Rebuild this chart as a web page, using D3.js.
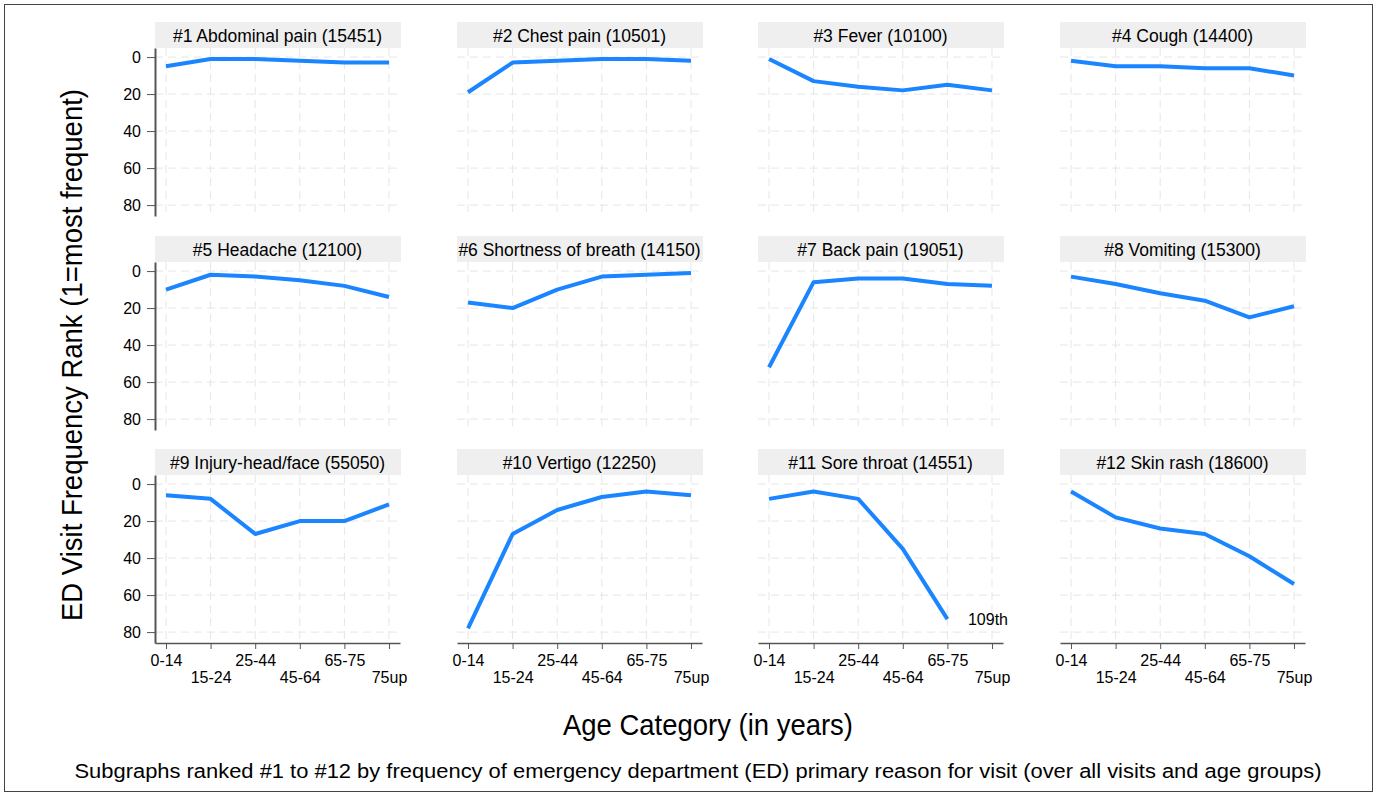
<!DOCTYPE html>
<html>
<head>
<meta charset="utf-8">
<script src="https://cdn.jsdelivr.net/npm/d3@7"></script>
<style>
  body { margin: 0; background: #fff; }
  text { font-family: "Liberation Sans", Arial, sans-serif; fill: #000; }
</style>
</head>
<body>
<svg width="1378" height="797"></svg>
<script>
// age groups on the x axis
var ageGroups = ["0-14", "15-24", "25-44", "45-64", "65-75", "75up"];

// panel titles, ranked by overall frequency
var panelTitles = [
  "#1 Abdominal pain (15451)", "#2 Chest pain (10501)", "#3 Fever (10100)", "#4 Cough (14400)",
  "#5 Headache (12100)", "#6 Shortness of breath (14150)", "#7 Back pain (19051)", "#8 Vomiting (15300)",
  "#9 Injury-head/face (55050)", "#10 Vertigo (12250)", "#11 Sore throat (14551)", "#12 Skin rash (18600)"
];

// frequency rank per age group (null = off the scale)
var abdominalPain = [5, 1, 1, 2, 3, 3];
var chestPain     = [19, 3, 2, 1, 1, 2];
var fever         = [1, 13, 16, 18, 15, 18];
var cough         = [2, 5, 5, 6, 6, 10];
var headache      = [10, 2, 3, 5, 8, 14];
var breath        = [17, 20, 10, 3, 2, 1];
var backPain      = [52, 6, 4, 4, 7, 8];
var vomiting      = [3, 7, 12, 16, 25, 19];
var injuryHead    = [6, 8, 27, 20, 20, 11];
var vertigo       = [78, 27, 14, 7, 4, 6];
var soreThroat    = [8, 4, 8, 35, 73, null];
var skinRash      = [4, 18, 24, 27, 39, 54];

var allRanks = [abdominalPain, chestPain, fever, cough, headache, breath,
                backPain, vomiting, injuryHead, vertigo, soreThroat, skinRash];

// rank labels for values that fall off the chart
var offScale = [{ panel: 10, age: "75up", label: "109th" }];

var yTicks = [0, 20, 40, 60, 80];

var svg = d3.select("svg");

var colLeft = [155, 457, 758, 1060],
    rowTop = [48, 262, 475],
    pw = 245, ph = 168, stripH = 26;

var x = d3.scaleLinear().domain([-0.247, 5.247]).range([0, pw]);
var y = d3.scaleLinear().domain([-4.9, 85.9]).range([0, ph]);

var line = d3.line()
    .defined(function (d) { return d != null; })
    .x(function (d, i) { return x(i); })
    .y(function (d) { return y(d); });

// outer frame
svg.append("rect")
    .attr("x", 4.5).attr("y", 4.5)
    .attr("width", 1368).attr("height", 787)
    .attr("fill", "none")
    .attr("stroke", "#444")
    .attr("stroke-width", 1);

allRanks.forEach(function (ranks, k) {
  var col = k % 4, row = Math.floor(k / 4);
  var g = svg.append("g")
      .attr("transform", "translate(" + colLeft[col] + "," + rowTop[row] + ")");

  // title strip
  g.append("rect")
      .attr("x", 0).attr("y", -stripH)
      .attr("width", pw + 1).attr("height", stripH)
      .attr("fill", "#efefef");
  g.append("text")
      .attr("x", pw / 2).attr("y", -6)
      .attr("text-anchor", "middle")
      .style("font-size", "17.5px")
      .text(panelTitles[k]);

  // dashed grid
  g.selectAll(".hgrid").data(yTicks).enter().append("line")
      .attr("x1", 0).attr("x2", pw)
      .attr("y1", function (d) { return y(d); })
      .attr("y2", function (d) { return y(d); })
      .attr("stroke", "#e6e6e6").attr("stroke-width", 1)
      .attr("stroke-dasharray", "8,5");
  g.selectAll(".vgrid").data(ageGroups).enter().append("line")
      .attr("y1", 0).attr("y2", ph)
      .attr("x1", function (d, i) { return x(i); })
      .attr("x2", function (d, i) { return x(i); })
      .attr("stroke", "#e6e6e6").attr("stroke-width", 1)
      .attr("stroke-dasharray", "8,5");

  if (col === 0) {
    var ya = g.append("g")
        .call(d3.axisLeft(y).tickValues(yTicks).tickSize(8).tickSizeOuter(0).tickPadding(6));
    ya.select(".domain").attr("stroke", "#555").attr("stroke-width", 2);
    ya.selectAll(".tick line").attr("stroke", "#555");
    ya.selectAll(".tick text").style("font-size", "16px").attr("fill", "#000");
  }

  if (row === 2) {
    var xa = g.append("g")
        .attr("transform", "translate(0," + ph + ")")
        .call(d3.axisBottom(x).tickValues(d3.range(ageGroups.length))
          .tickFormat(function (i) { return ageGroups[i]; })
          .tickSize(6).tickSizeOuter(0).tickPadding(6));
    xa.select(".domain").attr("stroke", "#555").attr("stroke-width", 1.5);
    xa.selectAll(".tick line").attr("stroke", "#555");
    xa.selectAll(".tick text")
        .style("font-size", "16px").attr("fill", "#000")
        .attr("dy", function (i) { return i % 2 ? "1.78em" : "0.71em"; });
  }

  g.append("path")
      .datum(ranks)
      .attr("fill", "none")
      .attr("stroke", "#1a85ff")
      .attr("stroke-width", 4)
      .attr("stroke-linejoin", "round")
      .attr("d", line);

  offScale.filter(function (o) { return o.panel === k; }).forEach(function (o) {
    g.append("text")
        .attr("x", x(ageGroups.indexOf(o.age)) - 4)
        .attr("y", y(73) + 6)
        .attr("text-anchor", "middle")
        .style("font-size", "16px")
        .text(o.label);
  });
});

// axis titles and caption (condensed look, as in the original)
svg.append("text")
    .attr("transform", "translate(82,355) rotate(-90)")
    .attr("text-anchor", "middle")
    .attr("textLength", 532).attr("lengthAdjust", "spacingAndGlyphs")
    .style("font-size", "29px")
    .text("ED Visit Frequency Rank (1=most frequent)");

svg.append("text")
    .attr("x", 708).attr("y", 735)
    .attr("text-anchor", "middle")
    .attr("textLength", 290).attr("lengthAdjust", "spacingAndGlyphs")
    .style("font-size", "29px")
    .text("Age Category (in years)");

svg.append("text")
    .attr("x", 698).attr("y", 778)
    .attr("text-anchor", "middle")
    .attr("textLength", 1247).attr("lengthAdjust", "spacingAndGlyphs")
    .style("font-size", "20px")
    .text("Subgraphs ranked #1 to #12 by frequency of emergency department (ED) primary reason for visit (over all visits and age groups)");
</script>
</body>
</html>
